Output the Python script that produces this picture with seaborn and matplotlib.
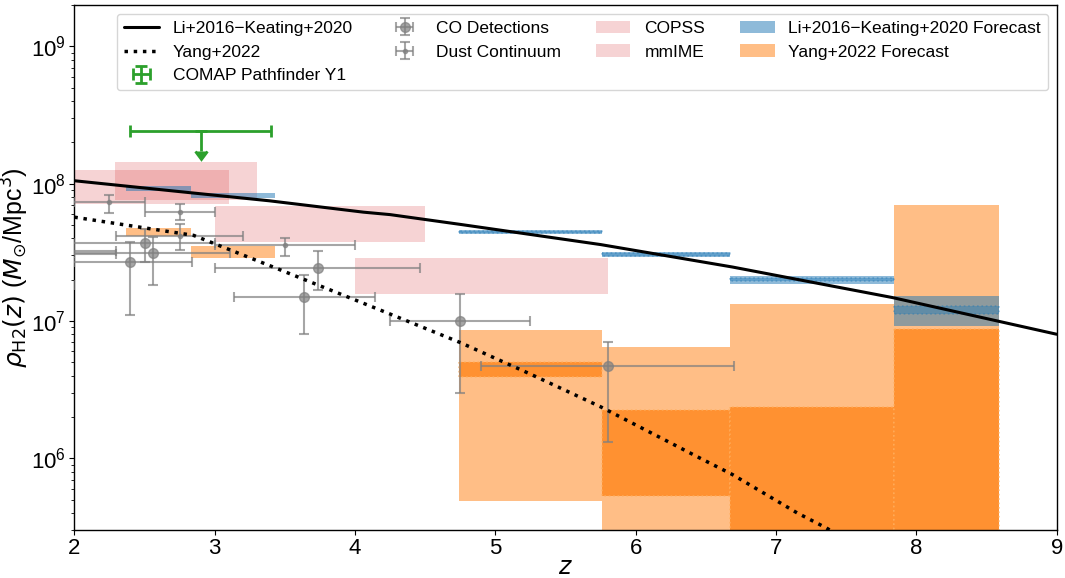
import numpy as np
import matplotlib
matplotlib.use("Agg")
import matplotlib.pyplot as plt
import seaborn as sns
import pandas as pd

# ---------------- data ----------------
li_z = [2.0, 2.68, 3.39, 4.06, 4.25, 4.75, 5.75, 6.69, 7.17, 7.83, 9.0]
li_rho = [1.05e8, 8.9e7, 7.5e7, 6.2e7, 5.95e7, 5.05e7, 3.6e7, 2.47e7, 1.99e7, 1.48e7, 8.0e6]

yang_z = [2.0, 2.85, 3.47, 4.18, 4.75, 5.25, 5.75, 6.46, 6.69, 7.15, 7.36, 7.6]
yang_rho = [5.7e7, 4.2e7, 2.35e7, 1.2e7, 6.96e6, 4.1e6, 2.37e6, 1.0e6, 7.6e5, 4.0e5, 3.1e5, 2.2e5]

comap_z = [2.9]
comap_zerr = [0.5]
comap_rho = [2.4e8]
comap_arrow = [0.67e8]

co_z = [2.4, 2.5, 2.56, 3.64, 3.735, 4.75, 5.8]
co_zlo = [0.4, 0.5, 0.56, 0.5, 0.73, 0.5, 0.9]
co_zhi = [0.44, 0.5, 0.55, 0.5, 0.73, 0.5, 0.9]
co_rho = [2.68e7, 3.67e7, 3.11e7, 1.50e7, 2.45e7, 1.0e7, 4.72e6]
co_rho_up = [3.77e7, 4.71e7, 4.09e7, 2.17e7, 3.23e7, 1.58e7, 7.08e6]
co_rho_dn = [1.10e7, 2.70e7, 1.83e7, 7.99e6, 1.67e7, 3.0e6, 1.32e6]

dust_z = [1.5, 1.8, 1.8, 2.25, 2.75, 2.75, 3.5]
dust_zerr = [0.5, 0.5, 0.5, 0.25, 0.25, 0.45, 0.5]
dust_rho = [1.83e7, 3.25e7, 3.07e7, 7.33e7, 6.21e7, 4.14e7, 3.57e7]
dust_rho_up = [2.2e7, 3.6e7, 3.4e7, 8.33e7, 7.13e7, 5.06e7, 4.03e7]
dust_rho_dn = [1.5e7, 2.9e7, 2.75e7, 6.14e7, 5.41e7, 3.28e7, 2.97e7]

copss_z = [2.29, 3.30]
copss_rho = [7.66e7, 1.44e8]

mmime_zlo = [2.0, 3.0, 4.0]
mmime_zhi = [3.1, 4.5, 5.8]
mmime_lo = [7.05e7, 3.73e7, 1.58e7]
mmime_hi = [1.26e8, 6.82e7, 2.86e7]

bin_lo = [2.37, 2.83, 4.74, 5.76, 6.67, 7.84]
bin_hi = [2.83, 3.43, 5.76, 6.67, 7.84, 8.59]

li_fc_lo = [8.9e7, 7.88e7, 4.28e7, 2.91e7, 1.87e7, 9.17e6]
li_fc_hi = [9.67e7, 8.57e7, 4.63e7, 3.19e7, 2.14e7, 1.51e7]
li_fc_in_lo = [np.nan, np.nan, 4.37e7, 2.99e7, 1.96e7, 1.13e7]
li_fc_in_hi = [np.nan, np.nan, 4.53e7, 3.11e7, 2.04e7, 1.28e7]

yang_fc_lo = [4.14e7, 2.89e7, 4.92e5, 1.0e5, 1.0e5, 1.0e5]
yang_fc_hi = [4.79e7, 3.53e7, 8.53e6, 6.47e6, 1.32e7, 6.94e7]
yang_fc_in_lo = [np.nan, np.nan, 3.89e6, 5.34e5, 1.0e5, 1.0e5]
yang_fc_in_hi = [np.nan, np.nan, 4.99e6, 2.23e6, 2.38e6, 8.68e6]

# ---------------- style ----------------
sns.set_style("ticks")
plt.rcParams.update({
    "font.family": ["Liberation Sans", "DejaVu Sans"],
    "mathtext.fontset": "dejavusans",
    "axes.edgecolor": "black",
    "text.color": "black",
    "axes.labelcolor": "black",
    "xtick.color": "black",
    "ytick.color": "black",
    "axes.linewidth": 1.0,
})

fig, ax = plt.subplots(figsize=(10.65, 5.78), dpi=100)
fig.subplots_adjust(left=0.0698, right=0.9922, top=0.9913, bottom=0.083)

red = "tab:red"
blue = "tab:blue"
orange = "tab:orange"

# pink boxes
h_copss = ax.fill_between(copss_z, [copss_rho[0]] * 2, [copss_rho[1]] * 2,
                          color=red, alpha=0.2, lw=0, zorder=1)
h_mm = None
for a, b, lo, hi in zip(mmime_zlo, mmime_zhi, mmime_lo, mmime_hi):
    h = ax.fill_between([a, b], [lo, lo], [hi, hi], color=red, alpha=0.2, lw=0, zorder=1)
    if h_mm is None:
        h_mm = h

# orange forecast
h_yf = None
for a, b, lo, hi, ilo, ihi in zip(bin_lo, bin_hi, yang_fc_lo, yang_fc_hi, yang_fc_in_lo, yang_fc_in_hi):
    h = ax.fill_between([a, b], [lo, lo], [hi, hi], color=orange, alpha=0.5, lw=0, zorder=2)
    if h_yf is None:
        h_yf = h
    if not np.isnan(ilo):
        ax.fill_between([a, b], [ilo, ilo], [ihi, ihi], facecolor=orange, alpha=0.7,
                        edgecolor="#ffb060", linestyle=":", lw=1.2, zorder=2.1)

# blue forecast
h_lf = None
for a, b, lo, hi, ilo, ihi in zip(bin_lo, bin_hi, li_fc_lo, li_fc_hi, li_fc_in_lo, li_fc_in_hi):
    h = ax.fill_between([a, b], [lo, lo], [hi, hi], color=blue, alpha=0.5, lw=0, zorder=3)
    if h_lf is None:
        h_lf = h
    if not np.isnan(ilo):
        ax.fill_between([a, b], [ilo, ilo], [ihi, ihi], facecolor=blue, alpha=0.4,
                        edgecolor=blue, linestyle=":", lw=1.2, zorder=3.1)

# data points
co_yerr = [np.array(co_rho) - np.array(co_rho_dn), np.array(co_rho_up) - np.array(co_rho)]
h_co = ax.errorbar(co_z, co_rho, xerr=[co_zlo, co_zhi], yerr=co_yerr, fmt="o", ms=7,
                   color="gray", alpha=0.7, capsize=3.5, elinewidth=1.5, capthick=1.5, zorder=4)
dust_yerr = [np.array(dust_rho) - np.array(dust_rho_dn), np.array(dust_rho_up) - np.array(dust_rho)]
h_dust = ax.errorbar(dust_z, dust_rho, xerr=dust_zerr, yerr=dust_yerr, fmt="o", ms=3,
                     color="gray", alpha=0.7, capsize=3.5, elinewidth=1.5, capthick=1.5, zorder=4)

# model lines
df_li = pd.DataFrame({"z": li_z, "rho": li_rho})
df_yang = pd.DataFrame({"z": yang_z, "rho": yang_rho})
sns.lineplot(data=df_li, x="z", y="rho", ax=ax, color="black", lw=2.2, zorder=5)
sns.lineplot(data=df_yang, x="z", y="rho", ax=ax, color="black", lw=2.5, ls=":", zorder=5)
h_li = ax.lines[-2]
h_yang = ax.lines[-1]

# COMAP upper limit
h_comap = ax.errorbar(comap_z, comap_rho, xerr=comap_zerr, yerr=comap_arrow, uplims=True,
                      fmt="none", color="tab:green", capsize=4, elinewidth=2, capthick=2, zorder=6)

ax.set_yscale("log")
ax.set_xlim(2, 9)
ax.set_ylim(3e5, 2e9)
ax.tick_params(axis="both", which="major", labelsize=16)
ax.tick_params(axis="x", which="major", pad=2.5)
ax.tick_params(axis="y", which="major", pad=2.5)
ax.set_xlabel(r"$z$", fontsize=17, labelpad=-2)
ax.set_ylabel(r"$\rho_{\rm H2}(z)$ ($M_{\odot}$/Mpc$^3$)", fontsize=18, labelpad=0)

handles = [h_li, h_yang, h_comap, h_co, h_dust, h_copss, h_mm, h_lf, h_yf]
labels = ["Li+2016\u2212Keating+2020", "Yang+2022", "COMAP Pathfinder Y1",
          "CO Detections", "Dust Continuum", "COPSS", "mmIME",
          "Li+2016\u2212Keating+2020 Forecast", "Yang+2022 Forecast"]
ax.legend(handles, labels, loc="upper right", ncol=4, fontsize=12.5, frameon=True)

fig.savefig("out.png", dpi=100)
